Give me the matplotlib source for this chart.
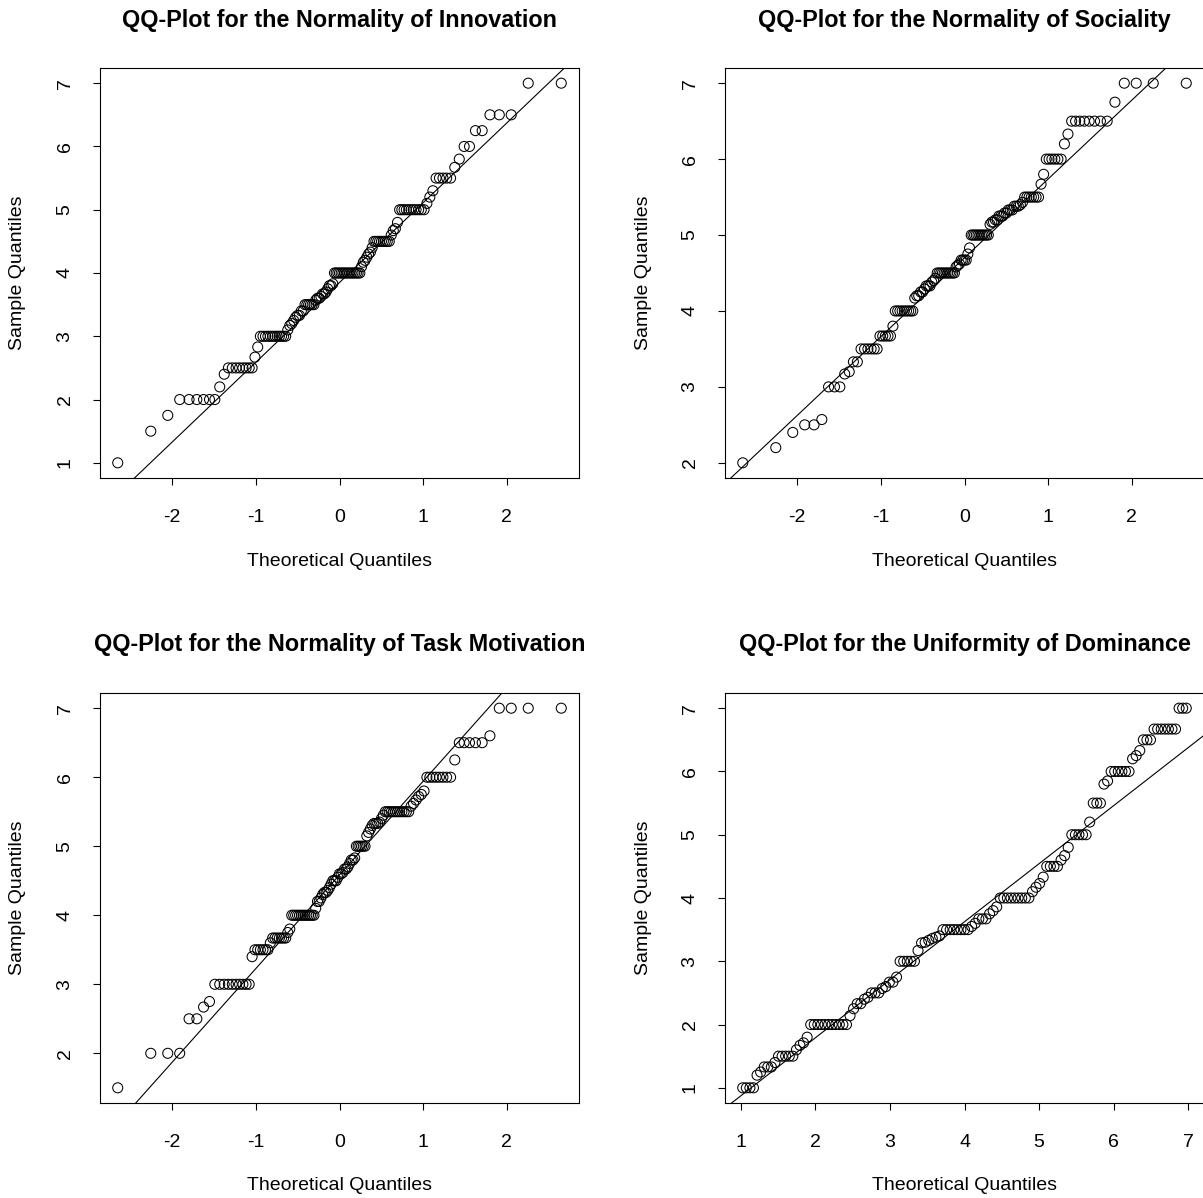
import numpy as np
import matplotlib.pyplot as plt
from matplotlib.ticker import MultipleLocator
from statistics import NormalDist

plt.rcParams['font.family'] = ['Liberation Sans', 'DejaVu Sans']
plt.rcParams['axes.unicode_minus'] = False

# sorted sample values as (value, how many times it occurs)
innov_vals = [1.0, 1.5, 1.75, 2.0, 2.2, 2.4, 2.5, 2.67, 2.83, 3.0,
              3.1, 3.17, 3.2, 3.25, 3.3, 3.33, 3.4, 3.5,
              3.57, 3.6, 3.63, 3.67, 3.7, 3.75, 3.8, 3.83,
              4.0, 4.1, 4.17, 4.2, 4.25, 4.3, 4.33, 4.4,
              4.5, 4.6, 4.67, 4.7, 4.8, 5.0,
              5.1, 5.2, 5.3, 5.5, 5.67, 5.8, 6.0, 6.25, 6.5, 7.0]
innov_counts = [1, 1, 1, 6, 1, 1, 8, 1, 1, 12,
                1, 1, 1, 1, 1, 2, 2, 6,
                1, 2, 1, 2, 1, 1, 2, 1,
                16, 1, 1, 1, 1, 1, 1, 1,
                9, 1, 1, 1, 1, 11,
                1, 1, 1, 5, 1, 1, 2, 2, 3, 2]

soc_vals = [2.0, 2.2, 2.4, 2.5, 2.57, 3.0, 3.17, 3.2, 3.33, 3.5, 3.67, 3.8,
            4.0, 4.17, 4.2, 4.25, 4.29, 4.33, 4.38, 4.4, 4.43, 4.5, 4.58, 4.6,
            4.62, 4.67, 4.75, 4.83, 5.0, 5.14, 5.17, 5.2, 5.25, 5.29, 5.33,
            5.38, 5.4, 5.43, 5.5, 5.67, 5.8, 6.0, 6.2, 6.33, 6.5, 6.75, 7.0]
soc_counts = [1, 1, 1, 2, 1, 3, 1, 1, 2, 6, 5, 1,
              9, 1, 2, 2, 1, 3, 1, 1, 1, 11, 1, 1,
              1, 4, 1, 1, 11, 1, 2, 2, 3, 2, 3,
              3, 1, 1, 7, 1, 1, 6, 1, 1, 8, 1, 4]

task_vals = [1.5, 2.0, 2.5, 2.67, 2.75, 3.0, 3.4, 3.5, 3.6, 3.67, 3.75, 3.8,
             4.0, 4.1, 4.2, 4.25, 4.3, 4.33, 4.36, 4.4, 4.45, 4.5, 4.55, 4.6,
             4.62, 4.67, 4.7, 4.75, 4.8, 4.83, 5.0, 5.15, 5.2, 5.25, 5.3, 5.33,
             5.35, 5.4, 5.45, 5.5, 5.58, 5.62, 5.67, 5.72, 5.75, 5.8, 6.0, 6.25,
             6.5, 6.6, 7.0]
task_counts = [1, 3, 2, 1, 1, 10, 1, 6, 1, 7, 1, 1,
               13, 1, 2, 1, 1, 2, 1, 1, 1, 3, 1, 2,
               1, 2, 1, 1, 2, 1, 6, 1, 1, 1, 1, 3,
               1, 1, 1, 12, 1, 1, 1, 1, 1, 1, 8, 1,
               5, 1, 4]

dom_vals = [1.0, 1.2, 1.25, 1.33, 1.4, 1.5, 1.6, 1.67, 1.71, 1.8, 2.0, 2.14,
            2.25, 2.33, 2.4, 2.43, 2.5, 2.57, 2.6, 2.67, 2.75, 3.0, 3.17, 3.29,
            3.3, 3.33, 3.36, 3.38, 3.4, 3.5, 3.55, 3.6, 3.67, 3.75, 3.8, 3.86,
            4.0, 4.1, 4.17, 4.23, 4.33, 4.5, 4.6, 4.67, 4.8, 5.0, 5.2, 5.5,
            5.8, 5.85, 6.0, 6.2, 6.25, 6.33, 6.5, 6.67, 7.0]
dom_counts = [4, 1, 1, 3, 1, 5, 1, 1, 1, 1, 11, 1,
              1, 2, 1, 1, 3, 1, 1, 2, 1, 5, 1, 1,
              1, 1, 1, 1, 1, 8, 1, 1, 3, 1, 1, 1,
              9, 1, 1, 1, 1, 4, 1, 1, 1, 5, 1, 3,
              1, 1, 6, 1, 1, 1, 3, 7, 3]

titles = ['QQ-Plot for the Normality of Innovation',
          'QQ-Plot for the Normality of Sociality',
          'QQ-Plot for the Normality of Task Motivation',
          'QQ-Plot for the Uniformity of Dominance']
dists = ['norm', 'norm', 'norm', 'unif']
unif_range = (1, 7)


def ppoints(n):
    # same as R's ppoints()
    a = 3 / 8 if n <= 10 else 0.5
    return (np.arange(1, n + 1) - a) / (n + 1 - 2 * a)


nd = NormalDist()
W, H = 1203, 1198
aw, ah = 479, 410
corners = [(100, 68), (725, 68), (100, 693), (725, 693)]
data = [(innov_vals, innov_counts), (soc_vals, soc_counts),
        (task_vals, task_counts), (dom_vals, dom_counts)]

fig = plt.figure(figsize=(W / 100, H / 100), dpi=100)

for (x0, y0), (vals, counts), title, dist in zip(corners, data, titles, dists):
    ax = fig.add_axes([x0 / W, 1 - (y0 + ah) / H, aw / W, ah / H])
    y = np.sort(np.repeat(vals, counts))
    p = ppoints(len(y))
    if dist == 'norm':
        x = np.array([nd.inv_cdf(v) for v in p])
        qx = np.array([nd.inv_cdf(0.25), nd.inv_cdf(0.75)])
    else:
        lo, hi = unif_range
        x = lo + (hi - lo) * p
        qx = lo + (hi - lo) * np.array([0.25, 0.75])

    ax.scatter(x, y, s=52, facecolors='none', edgecolors='black', linewidths=0.75)

    # qqline through the quartiles
    qy = np.quantile(y, [0.25, 0.75])
    slope = (qy[1] - qy[0]) / (qx[1] - qx[0])
    ax.axline((qx[0], qy[0]), slope=slope, color='black', lw=0.8)

    ax.margins(0.04)
    ax.xaxis.set_major_locator(MultipleLocator(1))
    ax.yaxis.set_major_locator(MultipleLocator(1))
    ax.tick_params(direction='out', length=5, width=0.8, labelsize=14)
    ax.tick_params(axis='x', pad=17)
    ax.tick_params(axis='y', pad=14)
    yt = [t for t in ax.get_yticks() if ax.get_ylim()[0] <= t <= ax.get_ylim()[1]]
    ax.set_yticks(yt, labels=[str(int(t)) for t in yt], rotation=90, va='center')
    xt = [t for t in ax.get_xticks() if ax.get_xlim()[0] <= t <= ax.get_xlim()[1]]
    ax.set_xticks(xt, labels=[str(int(t)) for t in xt])

    for s in ax.spines.values():
        s.set_linewidth(0.8)

    ax.set_xlabel('Theoretical Quantiles', fontsize=14, va='center')
    ax.xaxis.set_label_coords(0.5, -83 / ah)
    ax.set_ylabel('Sample Quantiles', fontsize=14, va='center')
    ax.yaxis.set_label_coords(-82 / aw, 0.5)
    ax.text(0.5, 1 + 48 / ah, title, transform=ax.transAxes, ha='center',
            va='center', fontsize=16.8, fontweight='bold')

fig.savefig('out.png', dpi=100)
